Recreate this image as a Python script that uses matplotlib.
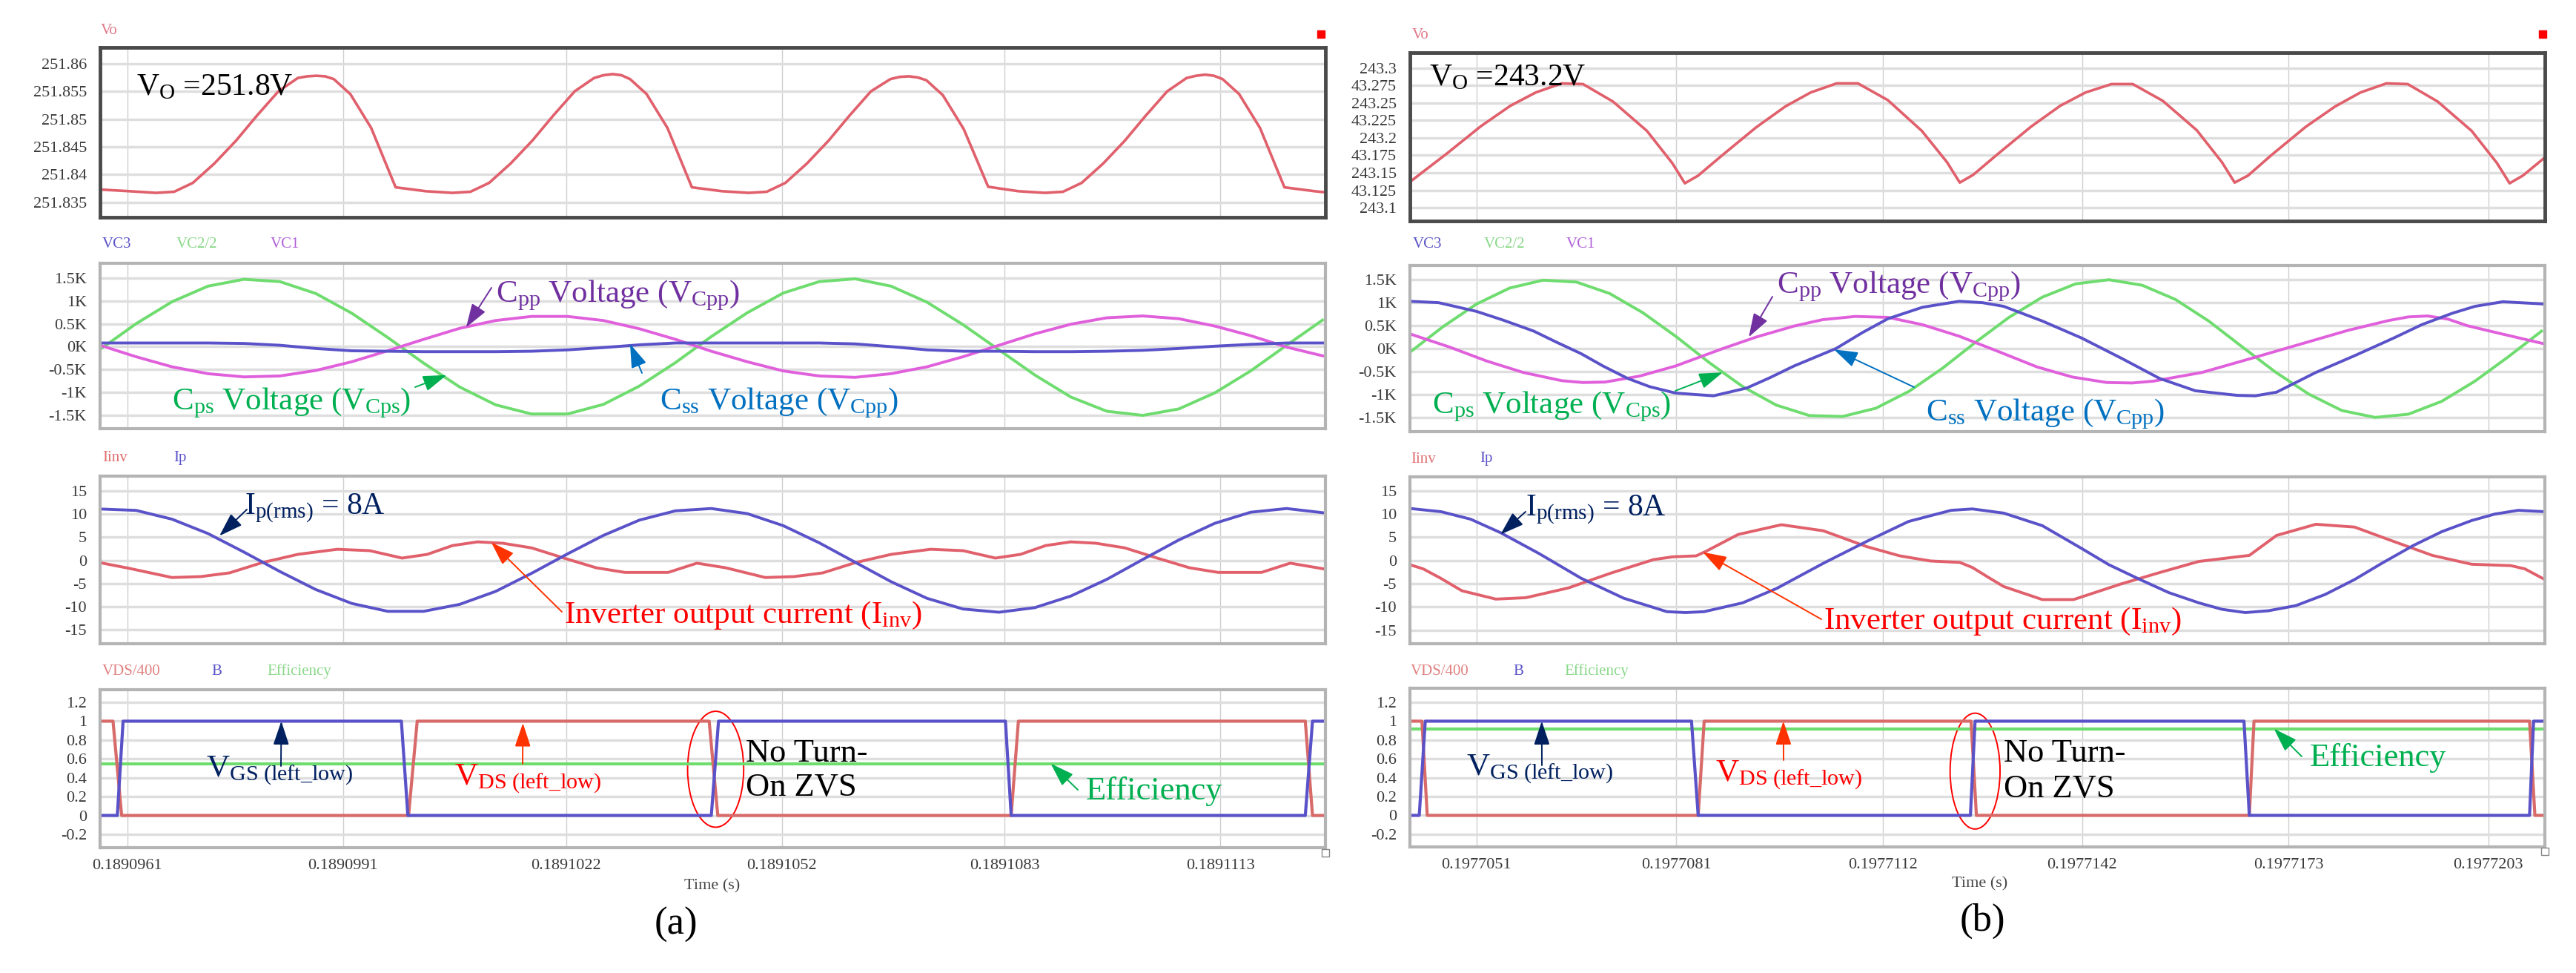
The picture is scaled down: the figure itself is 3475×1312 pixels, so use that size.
import matplotlib
matplotlib.use("Agg")
import matplotlib.pyplot as plt
from matplotlib.patches import Ellipse, Rectangle

# ---- data (time axis in microseconds after t0 of each panel) ----
t0_a = 0.18909572
t0_b = 0.1977041
tick_a_vals = [0.1890961, 0.1890991, 0.1891022, 0.1891052, 0.1891083, 0.1891113]
tick_b_vals = [0.1977051, 0.1977081, 0.1977112, 0.1977142, 0.1977173, 0.1977203]

# panel (a)
vo_a_t = [0.0, 0.41, 0.78, 1.03, 1.29, 1.59, 1.89, 2.18, 2.48, 2.75, 2.88, 3.01, 3.13, 3.25, 3.48, 3.77, 4.11,
          4.53, 4.90, 5.15, 5.41, 5.71, 6.01, 6.30, 6.60, 6.87, 7.00, 7.13, 7.25, 7.37, 7.60, 7.89, 8.23,
          8.65, 9.02, 9.27, 9.53, 9.83, 10.13, 10.42, 10.72, 10.99, 11.12, 11.25, 11.37, 11.49, 11.72, 12.01,
          12.35, 12.77, 13.14, 13.39, 13.65, 13.95, 14.25, 14.54, 14.84, 15.11, 15.24, 15.37, 15.49, 15.61,
          15.84, 16.13, 16.47, 16.89, 17.04]
vo_a = [251.8373, 251.8370, 251.8367, 251.8369, 251.8385, 251.8420, 251.8461, 251.8506, 251.8550, 251.8574,
        251.8577, 251.8578, 251.8577, 251.8572, 251.8545, 251.8484, 251.8377,
        251.8370, 251.8367, 251.8369, 251.8385, 251.8420, 251.8461, 251.8506, 251.8550, 251.8574,
        251.8579, 251.8581, 251.8579, 251.8572, 251.8545, 251.8484, 251.8377,
        251.8370, 251.8367, 251.8369, 251.8385, 251.8420, 251.8461, 251.8506, 251.8550, 251.8572,
        251.8576, 251.8577, 251.8575, 251.8570, 251.8543, 251.8482,
        251.8378, 251.8370, 251.8367, 251.8369, 251.8385, 251.8420, 251.8461, 251.8506, 251.8550, 251.8574,
        251.8578, 251.8580, 251.8578, 251.8572,
        251.8545, 251.8484, 251.8377, 251.8370, 251.8368]

t_a = [0.0, 0.5, 1.0, 1.5, 2.0, 2.5, 3.0, 3.5, 4.0, 4.5, 5.0, 5.5, 6.0, 6.5, 7.0, 7.5, 8.0, 8.5,
       9.0, 9.5, 10.0, 10.5, 11.0, 11.5, 12.0, 12.5, 13.0, 13.5, 14.0, 14.5, 15.0, 15.5, 16.0, 16.5, 17.0]
vc2_a = [-0.06, 0.50, 0.98, 1.32, 1.47, 1.42, 1.16, 0.73, 0.20, -0.36, -0.88, -1.27, -1.47, -1.47, -1.26,
         -0.86, -0.35, 0.22, 0.74, 1.17, 1.42, 1.48, 1.32, 0.97, 0.48, -0.07, -0.62, -1.10, -1.41, -1.50,
         -1.36, -1.01, -0.53, 0.03, 0.58]
vc1_a = [0.03, -0.22, -0.44, -0.59, -0.66, -0.64, -0.52, -0.33, -0.09, 0.16, 0.40, 0.57, 0.66, 0.66, 0.57,
         0.39, 0.16, -0.10, -0.33, -0.53, -0.64, -0.67, -0.59, -0.44, -0.22, 0.03, 0.28, 0.49, 0.63, 0.67,
         0.61, 0.45, 0.24, -0.01, -0.20]
vc3_a = [0.08, 0.08, 0.08, 0.08, 0.07, 0.03, -0.04, -0.09, -0.10, -0.11, -0.11, -0.11, -0.10, -0.07, -0.02,
         0.04, 0.08, 0.08, 0.08, 0.08, 0.08, 0.06, 0.00, -0.07, -0.10, -0.10, -0.11, -0.11, -0.10, -0.08,
         -0.04, 0.01, 0.05, 0.08, 0.08]
ip_a = [11.1, 10.8, 8.9, 5.8, 1.8, -2.4, -6.3, -9.3, -11.0, -11.0, -9.5, -6.7, -2.8, 1.4, 5.4, 8.7, 10.7,
        11.2, 10.1, 7.5, 3.8, -0.4, -4.6, -8.2, -10.5, -11.2, -10.2, -7.7, -4.1, 0.2, 4.4, 8.0, 10.4, 11.2, 10.3]
iinv_a_t = [0.0, 0.4, 1.0, 1.4, 1.8, 2.25, 2.75, 3.3, 3.75, 4.2, 4.55, 4.9, 5.25, 5.6, 6.0, 6.45, 6.9, 7.3,
            7.9, 8.3, 8.7, 9.25, 9.65, 10.05, 10.5, 11.0, 11.55, 12.0, 12.45, 12.8, 13.15, 13.5, 13.85, 14.25,
            14.7, 15.15, 15.55, 16.15, 16.55, 17.04]
iinv_a = [-0.5, -1.7, -3.7, -3.5, -2.7, -0.5, 1.3, 2.4, 2.1, 0.5, 1.3, 3.2, 4.0, 3.7, 2.7, 0.5, -1.6, -2.6,
          -2.6, -0.6, -1.6, -3.7, -3.5, -2.7, -0.5, 1.3, 2.4, 2.1, 0.5, 1.3, 3.2, 4.0, 3.7, 2.7, 0.5, -1.6,
          -2.6, -2.6, -0.6, -1.9]
vgs_a_t = [0.0, 0.24, 0.32, 4.19, 4.28, 8.50, 8.60, 12.59, 12.67, 16.76, 16.86, 17.04]
vgs_a = [0, 0, 1, 1, 0, 0, 1, 1, 0, 0, 1, 1]
vds_a_t = [0.0, 0.18, 0.30, 4.29, 4.41, 8.47, 8.59, 12.67, 12.77, 16.76, 16.86, 17.04]
vds_a = [1, 1, 0, 0, 1, 1, 0, 0, 1, 1, 0, 0]
eff_a_t = [0.0, 17.04]
eff_a = [0.55, 0.55]

# panel (b)
vo_b_t = [0.0, 0.56, 1.07, 1.51, 1.89, 2.28, 2.60, 3.05, 3.56, 3.94, 4.13, 4.33, 4.69, 5.20, 5.64, 6.02,
          6.41, 6.73, 7.18, 7.69, 8.07, 8.26, 8.46, 8.82, 9.33, 9.77, 10.15, 10.54, 10.86, 11.31, 11.82,
          12.20, 12.39, 12.59, 12.95, 13.46, 13.90, 14.28, 14.67, 14.99, 15.44, 15.95, 16.33, 16.52, 16.72, 17.05]
vo_b = [243.137, 243.178, 243.217, 243.246, 243.265, 243.278, 243.277, 243.252, 243.210, 243.164, 243.135,
        243.146, 243.175, 243.215, 243.245, 243.265, 243.278, 243.278, 243.254, 243.210, 243.165, 243.136,
        243.147, 243.176, 243.216, 243.246, 243.265, 243.277, 243.277, 243.253, 243.211, 243.165, 243.136,
        243.146, 243.176, 243.216, 243.245, 243.265, 243.278, 243.277, 243.252, 243.210, 243.164, 243.135,
        243.146, 243.172]
t_b = [0.0, 0.5, 1.0, 1.5, 2.0, 2.5, 3.0, 3.5, 4.0, 4.5, 5.0, 5.5, 6.0, 6.5, 7.0, 7.5, 8.0, 8.5,
       9.0, 9.5, 10.0, 10.5, 11.0, 11.5, 12.0, 12.5, 13.0, 13.5, 14.0, 14.5, 15.0, 15.5, 16.0, 16.5, 17.0]
vc2_b = [-0.08, 0.48, 0.97, 1.32, 1.49, 1.45, 1.20, 0.78, 0.26, -0.31, -0.83, -1.23, -1.46, -1.48, -1.30,
         -0.93, -0.43, 0.14, 0.68, 1.12, 1.41, 1.50, 1.38, 1.07, 0.60, 0.04, -0.51, -0.99, -1.35, -1.50,
         -1.43, -1.15, -0.71, -0.18, 0.38]
vc1_b_t = [0.0, 0.6, 1.15, 1.7, 2.28, 2.6, 2.93, 3.45, 3.99, 4.70, 5.2, 5.77, 6.2, 6.69, 7.18, 7.7, 8.25,
           8.85, 9.42, 9.95, 10.47, 10.85, 11.17, 11.9, 12.65, 13.1, 13.53, 14.1, 14.70, 15.0, 15.29, 15.6,
           15.88, 16.4, 17.05]
vc1_b = [0.32, 0.03, -0.27, -0.52, -0.70, -0.74, -0.73, -0.60, -0.38, 0.0, 0.25, 0.49, 0.63, 0.70, 0.68,
         0.52, 0.27, -0.07, -0.40, -0.62, -0.74, -0.75, -0.71, -0.52, -0.21, -0.02, 0.16, 0.40, 0.61, 0.69,
         0.71, 0.64, 0.50, 0.32, 0.10]
vc3_b_t = [0.0, 0.43, 1.0, 1.4, 1.86, 2.2, 2.57, 2.9, 3.27, 3.6, 3.99, 4.56, 5.06, 5.4, 5.77, 6.40, 6.8,
           7.18, 7.7, 8.25, 8.6, 8.92, 9.5, 10.09, 10.7, 11.26, 11.8, 12.43, 12.7, 13.02, 13.61, 14.2, 14.78,
           15.2, 15.66, 16.0, 16.42, 17.05]
vc3_b = [1.03, 1.00, 0.81, 0.62, 0.38, 0.14, -0.11, -0.38, -0.65, -0.83, -0.97, -1.03, -0.86, -0.64, -0.38,
         0.0, 0.35, 0.65, 0.90, 1.03, 1.00, 0.92, 0.60, 0.23, -0.22, -0.65, -0.92, -1.02, -1.03, -0.95,
         -0.52, -0.15, 0.23, 0.52, 0.77, 0.92, 1.02, 0.97]
ip_b_t = [0.0, 0.47, 0.91, 1.36, 1.94, 2.57, 3.21, 3.86, 4.14, 4.42, 5.0, 5.51, 6.21, 6.86, 7.49, 8.13,
          8.45, 8.92, 9.50, 10.09, 10.5, 10.97, 11.4, 11.85, 12.2, 12.55, 12.9, 13.31, 13.75, 14.19, 14.6,
          15.07, 15.5, 15.95, 16.3, 16.65, 17.05]
ip_b = [11.2, 10.5, 8.9, 6.0, 1.5, -3.8, -8.1, -11.0, -11.2, -11.0, -9.1, -6.0, -0.6, 4.1, 8.4, 10.8, 11.1,
        10.2, 7.5, 2.6, -0.9, -4.1, -6.9, -9.1, -10.5, -11.2, -10.8, -9.7, -7.3, -4.1, -0.6, 3.2, 6.2, 8.6,
        10.0, 10.8, 10.5]
iinv_b_t = [0.0, 0.2, 0.46, 0.78, 1.29, 1.74, 2.38, 3.02, 3.66, 3.95, 4.30, 4.45, 4.93, 5.58, 6.21, 6.86,
            7.36, 7.82, 8.26, 8.45, 8.71, 8.92, 9.50, 9.97, 10.67, 11.26, 11.85, 12.43, 12.61, 13.02, 13.61,
            14.19, 14.78, 15.36, 15.95, 16.54, 16.75, 17.05]
iinv_b = [-0.9, -1.8, -3.8, -6.5, -8.3, -8.0, -5.9, -2.7, 0.2, 0.8, 1.0, 2.0, 5.6, 7.7, 6.4, 3.0, 1.0, -0.1,
          -0.4, -1.5, -3.8, -5.6, -8.4, -8.4, -5.1, -2.6, -0.2, 0.8, 1.1, 5.4, 7.8, 7.2, 4.1, 1.1, -0.8, -1.1,
          -1.8, -4.1]
vgs_b_t = [0.0, 0.14, 0.23, 4.23, 4.33, 8.42, 8.49, 12.53, 12.61, 16.82, 16.88, 17.05]
vgs_b = [0, 0, 1, 1, 0, 0, 1, 1, 0, 0, 1, 1]
vds_b_t = [0.0, 0.18, 0.26, 4.33, 4.42, 8.43, 8.51, 12.61, 12.68, 16.82, 16.90, 17.05]
vds_b = [1, 1, 0, 0, 1, 1, 0, 0, 1, 1, 0, 0]
eff_b_t = [0.0, 17.05]
eff_b = [0.92, 0.92]

# ---- figure ----
W, H = 3475, 1312
plt.rcParams['font.family'] = ['Liberation Serif', 'DejaVu Serif']
plt.rcParams['mathtext.fontset'] = 'custom'
plt.rcParams['mathtext.rm'] = 'Liberation Serif'
plt.rcParams['mathtext.it'] = 'Liberation Serif:italic'
plt.rcParams['mathtext.bf'] = 'Liberation Serif:bold'

fig = plt.figure(figsize=(W / 100, H / 100), dpi=100)

c_red = '#e0606c'
c_green = '#6edc6e'
c_mag = '#e060dc'
c_blue = '#5a52c8'


def box(x0, y0, x1, y1):
    return [x0 / W, 1 - y1 / H, (x1 - x0) / W, (y1 - y0) / H]


def setup(rect, xlim, tick_vals, t0, yticks, ylabels, ylim, top=False, bottom=False):
    ax = fig.add_axes(rect)
    ax.set_xlim(*xlim)
    ax.set_ylim(*ylim)
    ax.set_xticks([(v - t0) * 1e6 for v in tick_vals])
    if bottom:
        ax.set_xticklabels(['%.7f' % v for v in tick_vals])
    else:
        ax.set_xticklabels([])
    ax.set_yticks(yticks)
    ax.set_yticklabels(ylabels)
    ax.tick_params(length=0, labelsize=16, labelcolor='#3a3a3a')
    ax.tick_params(axis='y', pad=13)
    ax.tick_params(axis='x', pad=11)
    ax.grid(axis='y', color='#dedede', lw=2.5)
    ax.grid(axis='x', color='#cfcfcf', lw=1.0)
    ax.set_axisbelow(True)
    for s in ax.spines.values():
        s.set_color('#4a4a4a' if top else '#b4b4b4')
        s.set_linewidth(3.5 if top else 3)
    return ax


def label(x, y, s, color, size=15):
    fig.text(x / W, 1 - y / H, s, color=color, fontsize=size, ha='left', va='center')


def note(x, y, s, color, size=31, **kw):
    fig.text(x / W, 1 - y / H, s, color=color, fontsize=size, ha='left', va='baseline', **kw)


def point(ax, xy, tail, color):
    ax.annotate('', xy=xy, xycoords='data', xytext=(tail[0], H - tail[1]), textcoords='figure pixels',
                arrowprops=dict(arrowstyle='-|>,head_length=0.9,head_width=0.3', color=color, lw=1.4,
                                mutation_scale=22, shrinkA=0, shrinkB=0))


vc_ticks = [-1.5, -1, -0.5, 0, 0.5, 1, 1.5]
vc_labels = ['-1.5K', '-1K', '-0.5K', '0K', '0.5K', '1K', '1.5K']
i_ticks = [-15, -10, -5, 0, 5, 10, 15]
i_labels = ['-15', '-10', '-5', '0', '5', '10', '15']
b_ticks = [-0.2, 0, 0.2, 0.4, 0.6, 0.8, 1.0, 1.2]
b_labels = ['-0.2', '0', '0.2', '0.4', '0.6', '0.8', '1', '1.2']

# ---------------- panel (a) ----------------
xa = (0, 17.04)
ax1 = setup(box(135, 64, 1788, 293), xa, tick_a_vals, t0_a,
            [251.835, 251.84, 251.845, 251.85, 251.855, 251.86],
            ['251.835', '251.84', '251.845', '251.85', '251.855', '251.86'], (251.8323, 251.8629), top=True)
ax1.plot(vo_a_t, vo_a, color=c_red, lw=2.6)

ax2 = setup(box(135, 355, 1788, 578), xa, tick_a_vals, t0_a, vc_ticks, vc_labels, (-1.79, 1.82))
ax2.plot(t_a, vc2_a, color=c_green, lw=2.8)
ax2.plot(t_a, vc1_a, color=c_mag, lw=2.8)
ax2.plot(t_a, vc3_a, color=c_blue, lw=2.8)

ax3 = setup(box(135, 642, 1788, 868), xa, tick_a_vals, t0_a, i_ticks, i_labels, (-18.0, 18.2))
ax3.plot(iinv_a_t, iinv_a, color=c_red, lw=2.8)
ax3.plot(t_a, ip_a, color=c_blue, lw=2.8)

ax4 = setup(box(135, 930, 1788, 1143), xa, tick_a_vals, t0_a, b_ticks, b_labels, (-0.342, 1.334), bottom=True)
ax4.plot(eff_a_t, eff_a, color=c_green, lw=3)
ax4.plot(vds_a_t, vds_a, color='#d86a6a', lw=3)
ax4.plot(vgs_a_t, vgs_a, color=c_blue, lw=3)
ax4.add_patch(Ellipse((8.56, 0.49), 0.78, 1.23, fill=False, color='red', lw=1.4))

label(136, 42, 'Vo', '#e07888')
label(138, 330, 'VC3', c_blue)
label(238, 330, 'VC2/2', '#8ad88a')
label(365, 330, 'VC1', '#b060d8')
label(138, 618, 'Iinv', '#e07070')
label(234, 618, 'Ip', c_blue)
label(138, 905, 'VDS/400', '#e08080')
label(285, 905, 'B', c_blue)
label(360, 905, 'Efficiency', '#8ad88a')
label(923, 1195, 'Time (s)', '#444444', 16)
fig.text(912 / W, 1 - 1247 / H, '(a)', fontsize=38, ha='center', va='center')

note(184, 128, r'V$_{\mathrm{O}}$ =251.8V', 'black', 30)
note(669, 407, r'C$_{\mathrm{pp}}$ Voltage (V$_{\mathrm{Cpp}}$)', '#7030a0')
point(ax2, (5.09, 0.42), (663, 388), '#7030a0')
note(232, 552, r'C$_{\mathrm{ps}}$ Voltage (V$_{\mathrm{Cps}}$)', '#00b050')
point(ax2, (4.82, -0.62), (560, 522), '#00b050')
note(890, 552, r'C$_{\mathrm{ss}}$ Voltage (V$_{\mathrm{Cpp}}$)', '#0070c0')
point(ax2, (7.37, 0.06), (866, 503), '#0070c0')
note(330, 693, r'I$_{\mathrm{p(rms)}}$ = 8A', '#002060', 30)
point(ax3, (1.66, 5.3), (333, 687), '#002060')
note(761, 840, r'Inverter output current (I$_{\mathrm{inv}}$)', '#ff0000')
point(ax3, (5.44, 3.9), (758, 825), '#ff3300')
note(278, 1047, r'V$_{\mathrm{GS\ (left\_low)}}$', '#002060')
point(ax4, (2.52, 1.0), (379, 1033), '#002060')
note(613, 1058, r'V$_{\mathrm{DS\ (left\_low)}}$', '#ff0000')
point(ax4, (5.88, 0.98), (705, 1030), '#ff3300')
note(1006, 1027, 'No Turn-', 'black', 32)
note(1006, 1073, 'On ZVS', 'black', 32)
note(1465, 1078, 'Efficiency', '#00b050', 32)
point(ax4, (13.22, 0.55), (1454, 1065), '#00b050')

# ---------------- panel (b) ----------------
xb = (0, 17.05)
bx1 = setup(box(1902, 71, 3433, 298), xb, tick_b_vals, t0_b,
            [243.1, 243.125, 243.15, 243.175, 243.2, 243.225, 243.25, 243.275, 243.3],
            ['243.1', '43.125', '243.15', '43.175', '243.2', '43.225', '243.25', '43.275', '243.3'],
            (243.081, 243.322), top=True)
bx1.plot(vo_b_t, vo_b, color=c_red, lw=2.6)

bx2 = setup(box(1902, 358, 3433, 582), xb, tick_b_vals, t0_b, vc_ticks, vc_labels, (-1.81, 1.81))
bx2.plot(t_b, vc2_b, color=c_green, lw=2.8)
bx2.plot(vc1_b_t, vc1_b, color=c_mag, lw=2.8)
bx2.plot(vc3_b_t, vc3_b, color=c_blue, lw=2.8)

bx3 = setup(box(1902, 643, 3433, 868), xb, tick_b_vals, t0_b, i_ticks, i_labels, (-17.9, 18.0))
bx3.plot(iinv_b_t, iinv_b, color=c_red, lw=2.8)
bx3.plot(ip_b_t, ip_b, color=c_blue, lw=2.8)

bx4 = setup(box(1902, 928, 3433, 1142), xb, tick_b_vals, t0_b, b_ticks, b_labels, (-0.335, 1.35), bottom=True)
bx4.plot(eff_b_t, eff_b, color=c_green, lw=3)
bx4.plot(vds_b_t, vds_b, color='#d86a6a', lw=3)
bx4.plot(vgs_b_t, vgs_b, color=c_blue, lw=3)
bx4.add_patch(Ellipse((8.49, 0.47), 0.75, 1.23, fill=False, color='red', lw=1.4))

label(1905, 48, 'Vo', '#e07888')
label(1906, 330, 'VC3', c_blue)
label(2002, 330, 'VC2/2', '#8ad88a')
label(2113, 330, 'VC1', '#b060d8')
label(1903, 619, 'Iinv', '#e07070')
label(1996, 619, 'Ip', c_blue)
label(1903, 905, 'VDS/400', '#e08080')
label(2041, 905, 'B', c_blue)
label(2110, 905, 'Efficiency', '#8ad88a')
label(2633, 1192, 'Time (s)', '#444444', 16)
fig.text(2674 / W, 1 - 1242 / H, '(b)', fontsize=38, ha='center', va='center')

note(1928, 115, r'V$_{\mathrm{O}}$ =243.2V', 'black', 30)
note(2397, 395, r'C$_{\mathrm{pp}}$ Voltage (V$_{\mathrm{Cpp}}$)', '#7030a0')
point(bx2, (5.09, 0.25), (2391, 400), '#7030a0')
note(1932, 557, r'C$_{\mathrm{ps}}$ Voltage (V$_{\mathrm{Cps}}$)', '#00b050')
point(bx2, (4.70, -0.52), (2260, 527), '#00b050')
note(2598, 567, r'C$_{\mathrm{ss}}$ Voltage (V$_{\mathrm{Cpp}}$)', '#0070c0')
point(bx2, (6.37, -0.02), (2582, 522), '#0070c0')
note(2058, 695, r'I$_{\mathrm{p(rms)}}$ = 8A', '#002060', 30)
point(bx3, (1.36, 5.6), (2058, 690), '#002060')
note(2460, 848, r'Inverter output current (I$_{\mathrm{inv}}$)', '#ff0000')
point(bx3, (4.40, 1.8), (2457, 835), '#ff3300')
note(1978, 1045, r'V$_{\mathrm{GS\ (left\_low)}}$', '#002060')
point(bx4, (1.98, 1.0), (2080, 1032), '#002060')
note(2314, 1053, r'V$_{\mathrm{DS\ (left\_low)}}$', '#ff0000')
point(bx4, (5.61, 1.0), (2406, 1025), '#ff3300')
note(2703, 1027, 'No Turn-', 'black', 32)
note(2703, 1075, 'On ZVS', 'black', 32)
note(3116, 1033, 'Efficiency', '#00b050', 32)
point(bx4, (12.98, 0.92), (3105, 1020), '#00b050')

# small markers of the simulator window
for (x, y, fc, ec) in [(1782, 46, 'red', 'red'), (3430, 46, 'red', 'red'),
                       (1788, 1150, 'white', '#888888'), (3433, 1148, 'white', '#888888')]:
    fig.add_artist(Rectangle(((x - 5) / W, 1 - (y + 5) / H), 10 / W, 10 / H, transform=fig.transFigure,
                             facecolor=fc, edgecolor=ec, lw=1))

fig.savefig('out.png', dpi=100)
